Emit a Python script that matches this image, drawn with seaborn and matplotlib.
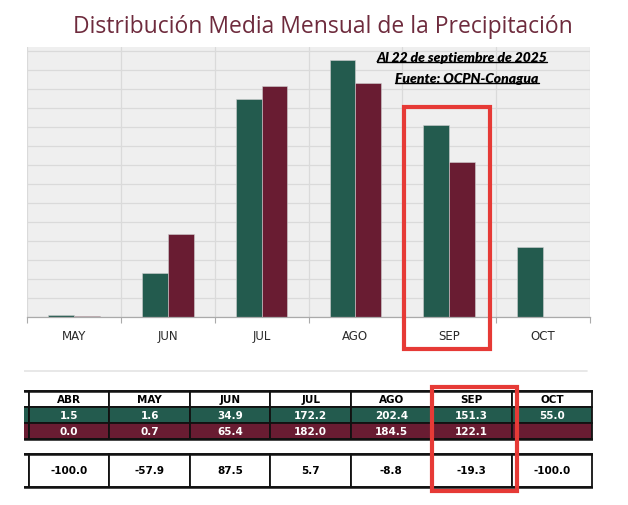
import matplotlib
matplotlib.use("Agg")
import matplotlib.pyplot as plt
import numpy as np
import pandas as pd
import seaborn as sns
from matplotlib.patches import Rectangle
from matplotlib.lines import Line2D
from matplotlib.transforms import IdentityTransform

# --- data ---
chart_months = ["MAY", "JUN", "JUL", "AGO", "SEP", "OCT"]
table_months = ["ABR", "MAY", "JUN", "JUL", "AGO", "SEP", "OCT"]
media = [1.5, 1.6, 34.9, 172.2, 202.4, 151.3, 55.0]      # green, ABR..OCT
lluvia_2025 = [0.0, 0.7, 65.4, 182.0, 184.5, 122.1, None]  # maroon, ABR..OCT
diferencia = [-100.0, -57.9, 87.5, 5.7, -8.8, -19.3, -100.0]

GREEN = "#235B4E"
MAROON = "#691C32"
TITLE_C = "#6e2b3d"
RED = "#e63a36"

rows = []
for m, g, r in zip(table_months, media, lluvia_2025):
    if m not in chart_months:
        continue
    rows.append({"mes": m, "serie": "Media", "mm": g})
    rows.append({"mes": m, "serie": "2025", "mm": np.nan if r is None else r})
df = pd.DataFrame(rows)

sns.set_theme(style="white")
plt.rcParams["font.family"] = ["Open Sans", "DejaVu Sans"]

W, H = 628, 506
fig = plt.figure(figsize=(W / 100, H / 100), dpi=100)
fig.patch.set_facecolor("white")

# --- bar chart ---
ax = fig.add_axes([27 / W, (H - 318) / H, 563 / W, 270 / H])
ax.set_facecolor("#efefef")
sns.barplot(data=df, x="mes", y="mm", hue="serie", order=chart_months,
            hue_order=["Media", "2025"], palette=[GREEN, MAROON], saturation=1,
            width=0.55, edgecolor="#cfcfcf", linewidth=0.4,
            errorbar=None, legend=False, ax=ax)
ax.set_xlim(-0.5, len(chart_months) - 0.5)
ax.set_ylim(0, 213)
ax.set_yticks(np.arange(0, 211, 15))
ax.set_yticklabels([])
ax.tick_params(axis="y", length=0)
ax.set_xticks(np.arange(-0.5, len(chart_months)), minor=True)
ax.tick_params(axis="x", which="major", length=0, pad=9, labelsize=8.5,
               labelcolor="#2a2a2a")
for lab in ax.get_xticklabels():
    lab.set_family(["DejaVu Sans"])
ax.tick_params(axis="x", which="minor", length=4, width=0.8, color="#aaaaaa",
               direction="out", bottom=True)
ax.grid(axis="y", color="#dadada", linewidth=0.9)
ax.grid(axis="x", which="minor", color="#dadada", linewidth=0.9)
ax.set_axisbelow(True)
ax.set_xlabel("")
ax.set_ylabel("")
for s in ["top", "right", "left"]:
    ax.spines[s].set_visible(False)
ax.spines["bottom"].set_color("#aaaaaa")
ax.spines["bottom"].set_linewidth(0.9)

fig.text(323 / W, 1 - 27 / H, "Distribución Media Mensual de la Precipitación",
         ha="center", va="center", fontsize=16.5, color=TITLE_C)

notes = [("Al 22 de septiembre de 2025", 462, 58),
         ("Fuente: OCPN-Conagua", 467, 79)]
note_txt = []
for s, x, y in notes:
    t = fig.text(x / W, 1 - y / H, s, ha="center", va="center", fontsize=10,
                 fontweight="heavy", fontstyle="italic", color="black",
                 family=["Lato", "DejaVu Sans"])
    note_txt.append(t)

# --- table ---
tax = fig.add_axes([24 / W, (H - 492) / H, 568.5 / W, 122 / H])
tax.set_xlim(-0.062, len(table_months))
tax.set_ylim(492, 370)
tax.axis("off")
tax.axhline(372, xmin=0.0, xmax=0.99, color="#e4e4e4", linewidth=1.2)

row_specs = [  # top, height, face, text colour, labels
    (392, 16, "white", "black", table_months),
    (408, 16, GREEN, "white", [f"{v:.1f}" for v in media]),
    (424, 16, MAROON, "white", ["" if v is None else f"{v:.1f}" for v in lluvia_2025]),
    (455, 33, "white", "black", [f"{v:.1f}" for v in diferencia]),
]
for top, h, face, tc, labels in row_specs:
    for i in range(-1, len(table_months)):
        tax.add_patch(Rectangle((i, top), 1, h, facecolor=face, edgecolor="#111111",
                                linewidth=1.3, clip_on=True))
        if i >= 0:
            tax.text(i + 0.5, top + h / 2, labels[i], ha="center", va="center",
                     fontsize=7.5, fontweight="bold", color=tc,
                     family=["DejaVu Sans"])
for yy in [392, 440, 455, 488]:
    tax.axhline(yy, color="#111111", linewidth=1.8)

# --- red highlight boxes ---
for x0, y0, x1, y1 in [(404, 108, 490, 350), (432, 388, 517, 492)]:
    fig.add_artist(Rectangle((x0, H - y1), x1 - x0, y1 - y0, fill=False,
                             edgecolor=RED, linewidth=3.0,
                             transform=IdentityTransform()))

# underline the notes
fig.canvas.draw()
r = fig.canvas.get_renderer()
for t in note_txt:
    bb = t.get_window_extent(r)
    fig.add_artist(Line2D([bb.x0, bb.x1], [bb.y0 + 1, bb.y0 + 1], color="black",
                          linewidth=1.0, transform=IdentityTransform()))

fig.savefig("out.png", dpi=100)
